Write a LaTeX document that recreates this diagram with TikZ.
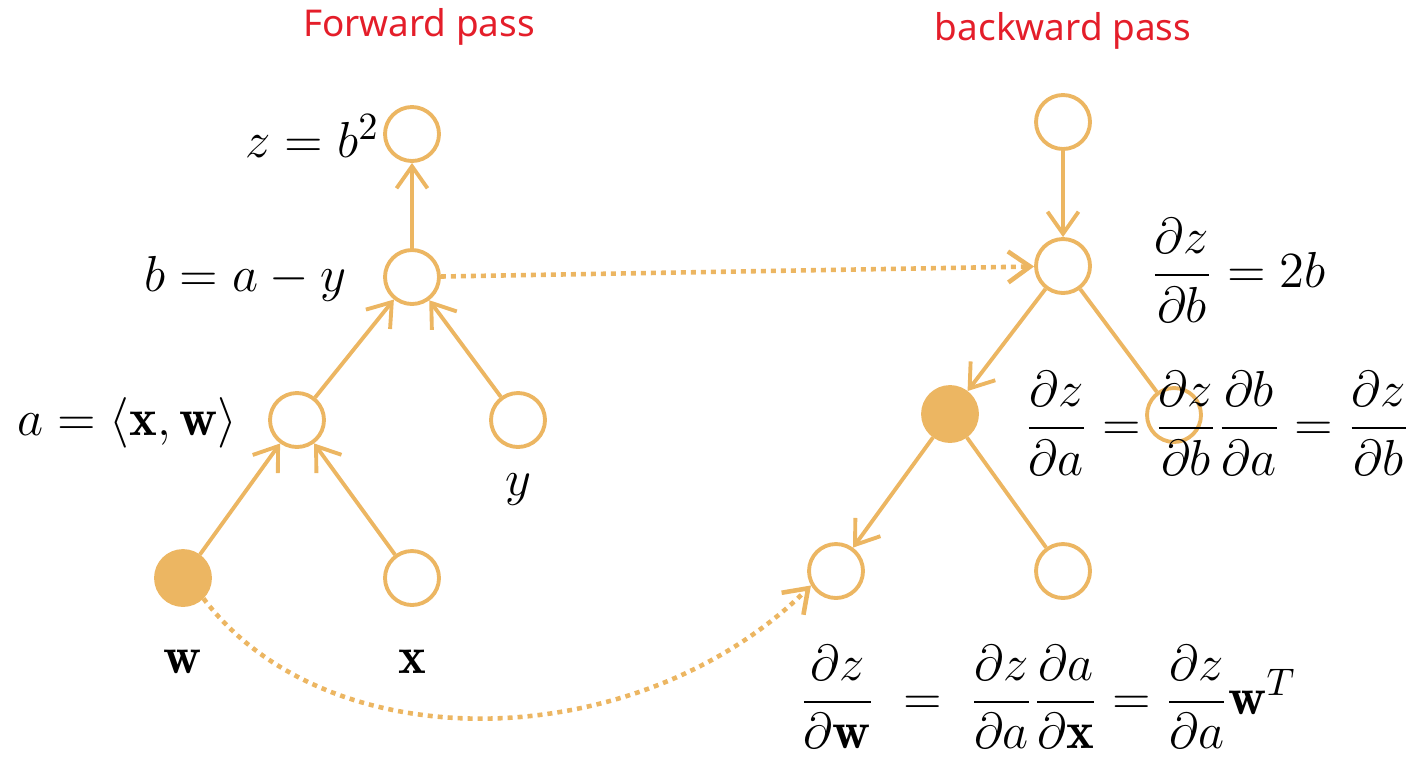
\documentclass[tikz,border=0pt]{standalone}
\usepackage{amsmath}
\usepackage{fontspec}
\newfontfamily\titlefont{Noto Sans}
\usetikzlibrary{arrows.meta}
\definecolor{passorange}{RGB}{236,182,98}
\definecolor{titlered}{RGB}{228,30,42}

\begin{document}
\begin{tikzpicture}[x=0.1mm, y=-0.1mm,
  v/.style={circle, draw=passorange, line width=1.1pt, fill=white, minimum size=5.4mm, inner sep=0pt},
  vfill/.style={v, fill=passorange},
  fwd/.style={draw=passorange, line width=1.1pt, -{Straight Barb[length=2.2mm, width=3.1mm]}},
  plain/.style={draw=passorange, line width=1.1pt},
  jump/.style={draw=passorange, line width=1.3pt, dash pattern=on 0.5mm off 0.5mm, -{Straight Barb[length=2.2mm, width=3.1mm]}},
  eq/.style={inner sep=0pt, font=\fontsize{15}{18}\selectfont},
  ttl/.style={text=titlered, font=\titlefont\fontsize{10.5}{12}\selectfont}
]
  \useasboundingbox (0,0) rectangle (1414,758);
  \clip (0,0) rectangle (1414,758);

  % Forward pass
  \node[ttl] (tf) at (419,27) {Forward pass};
  \node[v] (zF) at (412,134) {};
  \node[v] (bF) at (412,277) {};
  \node[v] (aF) at (297,420) {};
  \node[v] (yF) at (518,420) {};
  \node[vfill] (wF) at (183,578) {};
  \node[v] (xF) at (412,578) {};

  \node[eq, anchor=east] (lz) at (380,136) {$z = b^2$};
  \node[eq, anchor=east] (lb) at (347,279) {$b = a - y$};
  \node[eq, anchor=east] (la) at (238,423) {$a = \langle\mathbf{x}, \mathbf{w}\rangle$};
  \node[eq] (ly) at (518,490) {$y$};
  \node[eq] (lw) at (183,662) {$\mathbf{w}$};
  \node[eq] (lx) at (412,662) {$\mathbf{x}$};

  \draw[fwd] (bF) -- (zF);
  \draw[fwd] (aF) -- (bF);
  \draw[fwd] (yF) -- (bF);
  \draw[fwd] (wF) -- (aF);
  \draw[fwd] (xF) -- (aF);

  % Backward pass
  \node[ttl] (tb) at (1063,31) {backward pass};
  \node[v] (zB) at (1063,122) {};
  \node[v] (bB) at (1063,266) {};
  \node[vfill] (aB) at (950,414) {};
  \node[v] (yB) at (1174,415) {};
  \node[v] (wB) at (836,571) {};
  \node[v] (xB) at (1063,571) {};

  \draw[fwd] (zB) -- (bB);
  \draw[fwd] (bB) -- (aB);
  \draw[plain] (bB) -- (yB);
  \draw[fwd] (aB) -- (wB);
  \draw[plain] (aB) -- (xB);

  \node[eq, anchor=west] (gb) at (1150,270) {$\dfrac{\partial z}{\partial b} = 2b$};
  \node[eq, anchor=west] (ga) at (1024,423)
    {$\dfrac{\partial z}{\partial a} = \dfrac{\partial z}{\partial b}\dfrac{\partial b}{\partial a} = \dfrac{\partial z}{\partial b}$};
  \node[eq, anchor=west] (gw) at (799,697)
    {$\dfrac{\partial z}{\partial \mathbf{w}} \;=\; \dfrac{\partial z}{\partial a}\dfrac{\partial a}{\partial \mathbf{x}} = \dfrac{\partial z}{\partial a}\mathbf{w}^T$};

  % passing values across
  \draw[jump] (bF) -- (bB);
  \draw[jump] (wF.-45) .. controls (330,765) and (640,755) .. (wB.-150);
\end{tikzpicture}
\end{document}
